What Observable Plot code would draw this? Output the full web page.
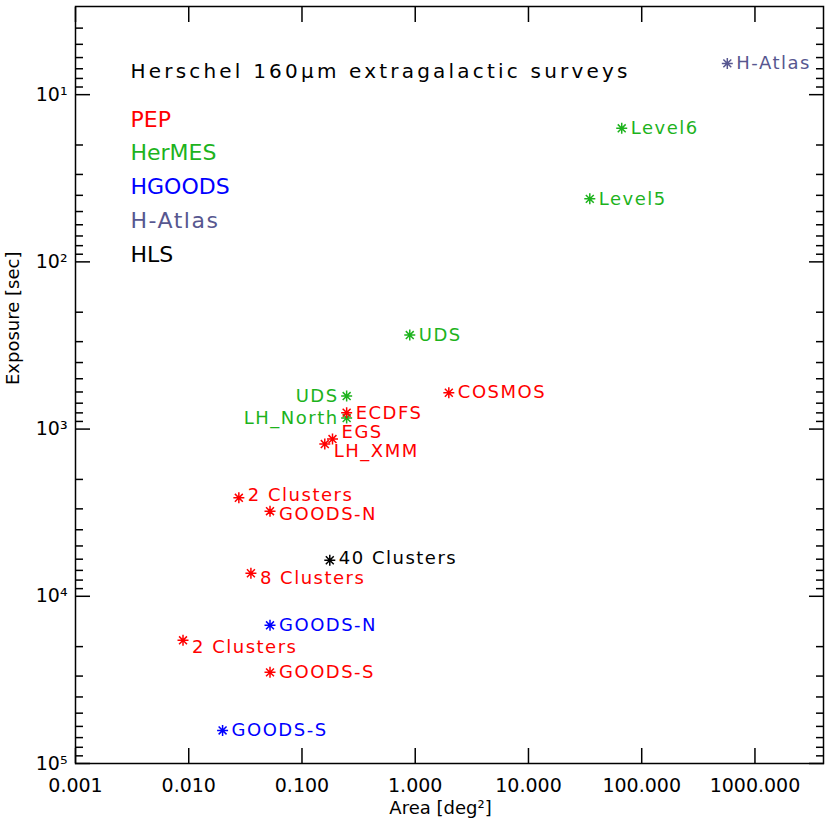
<!DOCTYPE html>
<html>
<head>
<meta charset="utf-8">
<script src="https://cdn.jsdelivr.net/npm/d3@7"></script>
<script src="https://cdn.jsdelivr.net/npm/@observablehq/plot@0.6"></script>
<style>
  html, body { margin: 0; padding: 0; background: white; }
</style>
</head>
<body>
<div id="chart"></div>
<script>
// ---- data ----
const surveys = ["PEP", "HerMES", "HGOODS", "H-Atlas", "HLS"];
const surveyColors = ["#ff0000", "#1db31d", "#0000ff", "#575790", "#000000"];

const fieldName = ["H-Atlas", "Level6", "Level5", "UDS", "UDS", "LH_North", "ECDFS", "COSMOS", "EGS", "LH_XMM",
  "2 Clusters", "GOODS-N", "40 Clusters", "8 Clusters", "GOODS-N", "2 Clusters", "GOODS-S", "GOODS-S"];
const fieldSurvey = ["H-Atlas", "HerMES", "HerMES", "HerMES", "HerMES", "HerMES", "PEP", "PEP", "PEP", "PEP",
  "PEP", "PEP", "HLS", "PEP", "HGOODS", "PEP", "PEP", "HGOODS"];
const fieldArea = [570, 66.6, 34.8, 0.895, 0.248, 0.248, 0.248, 1.98, 0.186, 0.159,
  0.0277, 0.0522, 0.176, 0.0354, 0.0522, 0.0089, 0.0522, 0.0199];
const fieldExposure = [6.5, 15.9, 42, 274, 635, 859, 798, 606, 1148, 1230,
  2578, 3098, 6087, 7283, 14920, 18340, 28510, 63430];
// where each label sits (exposure of the label's centre) and on which side of its point
const labelExposure = [6.5, 15.9, 42, 274, 635, 859, 802, 606, 1050, 1365,
  2485, 3228, 5919, 7800, 14920, 20190, 28510, 63430];
const labelSide = ["right", "right", "right", "right", "left", "left", "right", "right", "right", "right",
  "right", "right", "right", "right", "right", "right", "right", "right"];

const xTicks = [0.001, 0.01, 0.1, 1, 10, 100, 1000];
const xTickLabels = ["0.001", "0.010", "0.100", "1.000", "10.000", "100.000", "1000.000"];
const yMajor = [10, 100, 1000, 10000, 100000];
const yTickLabels = ["10¹", "10²", "10³", "10⁴", "10⁵"];
const yMinor = [4, 5, 6, 7, 8, 9,
  20, 30, 40, 50, 60, 70, 80, 90,
  200, 300, 400, 500, 600, 700, 800, 900,
  2000, 3000, 4000, 5000, 6000, 7000, 8000, 9000,
  20000, 30000, 40000, 50000, 60000, 70000, 80000, 90000];

const titleText = "Herschel 160μm extragalactic surveys";
const xLabel = "Area [deg²]";
const yLabel = "Exposure [sec]";

// ---- build table ----
const fields = fieldName.map((name, i) => ({
  name, survey: fieldSurvey[i], area: fieldArea[i], exposure: fieldExposure[i],
  labelExposure: labelExposure[i], side: labelSide[i]
}));

const star = {
  draw(ctx, size) {
    const h = Math.sqrt(size / Math.PI);
    const d = h * 0.72;
    ctx.moveTo(-h, 0); ctx.lineTo(h, 0);
    ctx.moveTo(0, -h); ctx.lineTo(0, h);
    ctx.moveTo(-d, -d); ctx.lineTo(d, d);
    ctx.moveTo(-d, d); ctx.lineTo(d, -d);
  }
};

const font = "DejaVu Sans";

const legendMarks = surveys.map((s, i) => Plot.text([s], {
  frameAnchor: "top-left", dx: 55, dy: 113 + i * 33.8,
  text: d => d, textAnchor: "start", lineAnchor: "middle",
  fill: surveyColors[i], fontSize: 22
}));

const chart = Plot.plot({
  width: 830,
  height: 830,
  marginLeft: 75,
  marginRight: 7,
  marginTop: 6,
  marginBottom: 67,
  style: { fontFamily: font, fontSize: "19px", background: "white", color: "black" },
  x: { type: "log", domain: [0.001, 4030], label: null },
  y: { type: "log", domain: [2.97, 100000], reverse: true, label: null },
  color: { domain: surveys, range: surveyColors },
  marks: [
    // x ticks (inward, bottom & top)
    Plot.axisX({ ticks: xTicks, anchor: "bottom", tickSize: -15, strokeWidth: 1.5, text: null, label: null }),
    Plot.axisX({ ticks: xTicks, anchor: "top", tickSize: -15, strokeWidth: 1.5, text: null, label: null }),
    Plot.axisX({ ticks: xTicks, anchor: "bottom", tickSize: 0, tickPadding: 15,
      tickFormat: d => xTickLabels[xTicks.indexOf(d)], fontSize: 19, label: null }),
    // y ticks (inward, left & right), major + minor
    Plot.axisY({ ticks: yMajor, anchor: "left", tickSize: -15, strokeWidth: 1.5, text: null, label: null }),
    Plot.axisY({ ticks: yMajor, anchor: "right", tickSize: -15, strokeWidth: 1.5, text: null, label: null }),
    Plot.axisY({ ticks: yMinor, anchor: "left", tickSize: -8, strokeWidth: 1.5, text: null, label: null }),
    Plot.axisY({ ticks: yMinor, anchor: "right", tickSize: -8, strokeWidth: 1.5, text: null, label: null }),
    Plot.axisY({ ticks: yMajor, anchor: "left", tickSize: 0, tickPadding: 8,
      tickFormat: d => yTickLabels[yMajor.indexOf(d)], fontSize: 19, label: null }),
    Plot.frame({ stroke: "black", strokeWidth: 1.5 }),
    // axis titles
    Plot.text([xLabel], { frameAnchor: "bottom", dy: 45, dx: -9, text: d => d, fontSize: 18, lineAnchor: "middle" }),
    Plot.text([yLabel], { frameAnchor: "left", dx: -62, rotate: -90, text: d => d, fontSize: 18, lineAnchor: "middle" }),
    // title + legend
    Plot.text([titleText], { frameAnchor: "top-left", dx: 55, dy: 65, text: d => d, textAnchor: "start",
      lineAnchor: "middle", fontSize: 20, fill: "black" }),
    ...legendMarks,
    // points
    Plot.dot(fields, { x: "area", y: "exposure", symbol: star, r: 5.5, stroke: "survey", fill: "none", strokeWidth: 1.5 }),
    // labels
    Plot.text(fields.filter(d => d.side === "right"), { x: "area", y: "labelExposure", text: "name", fill: "survey",
      dx: 9, textAnchor: "start", lineAnchor: "middle", fontSize: 18 }),
    Plot.text(fields.filter(d => d.side === "left"), { x: "area", y: "labelExposure", text: "name", fill: "survey",
      dx: -8, textAnchor: "end", lineAnchor: "middle", fontSize: 18 })
  ]
});

// widen the lettering to match the reference's wide stroke font
chart.querySelectorAll("text").forEach(t => {
  const s = t.textContent;
  if (s === titleText) t.setAttribute("letter-spacing", "3.2");
  else if (surveys.includes(s) && t.getAttribute("font-size") === "22") t.setAttribute("letter-spacing", "1");
  else if (fieldName.includes(s)) t.setAttribute("letter-spacing", "1.5");
});

document.getElementById("chart").appendChild(chart);
</script>
</body>
</html>
